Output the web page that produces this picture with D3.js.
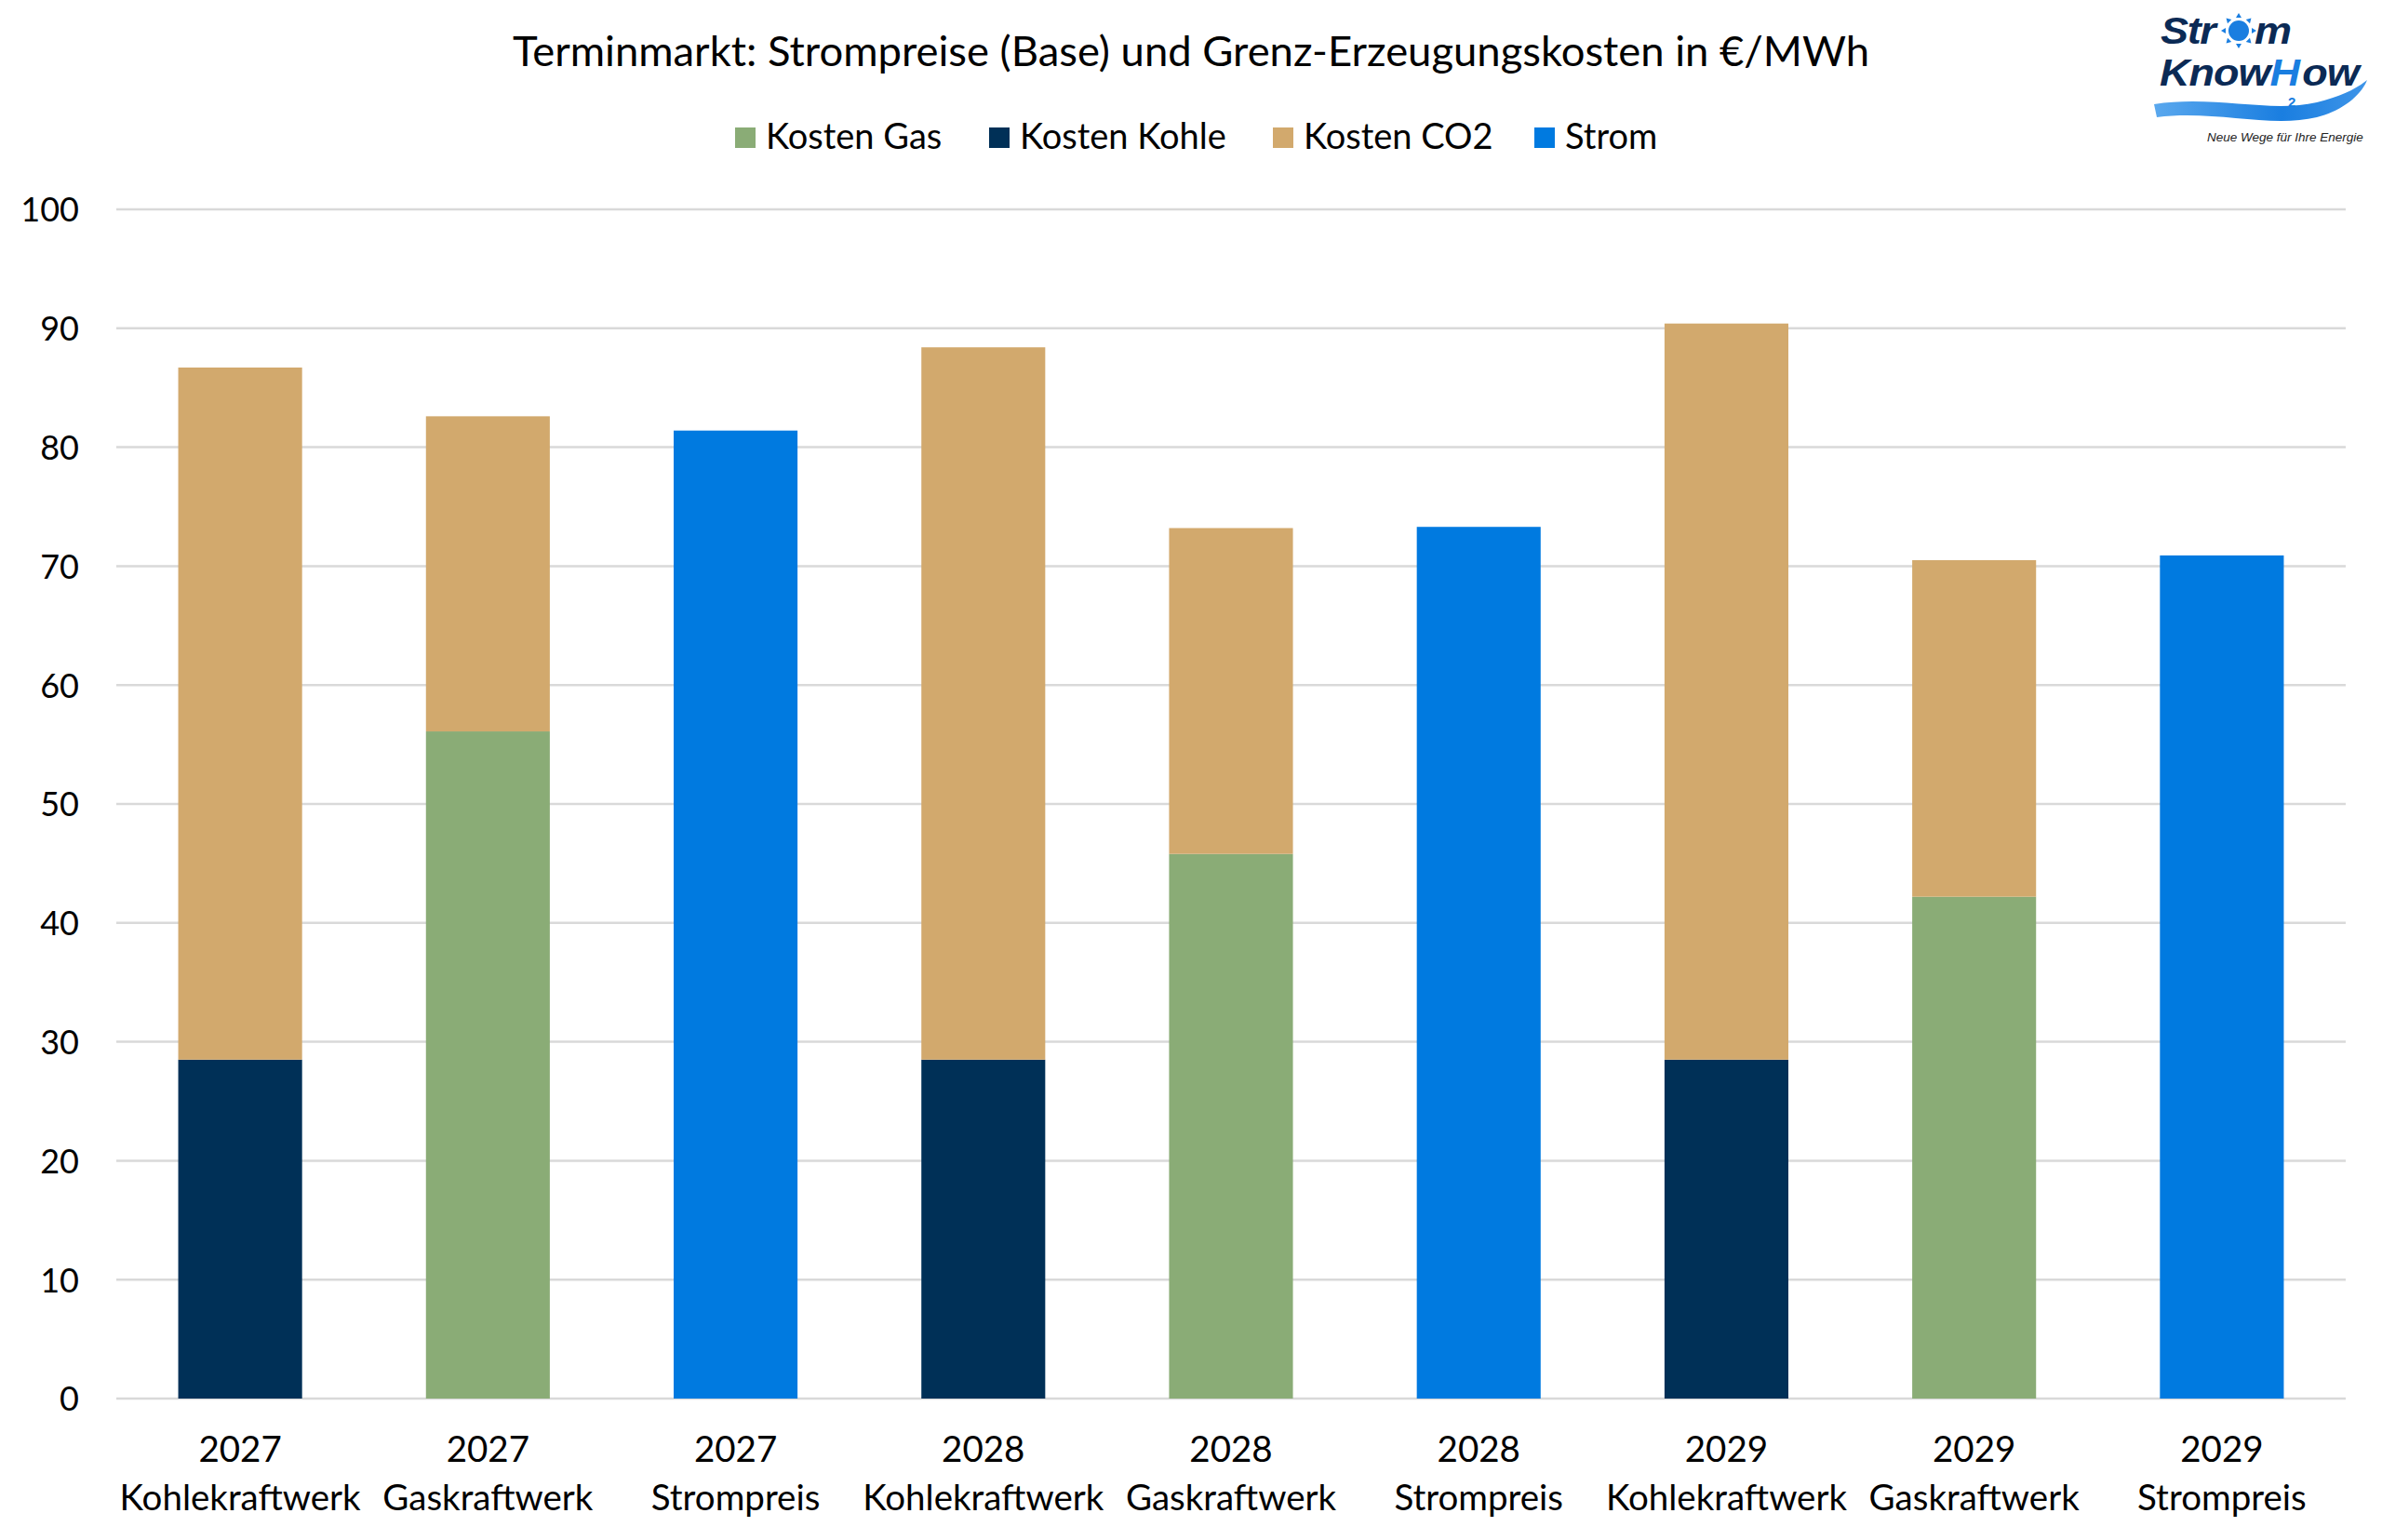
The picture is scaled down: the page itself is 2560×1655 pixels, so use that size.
<!DOCTYPE html>
<html>
<head>
<meta charset="utf-8">
<script src="https://cdn.jsdelivr.net/npm/d3@7"></script>
<style>
  html, body { margin: 0; padding: 0; background: #fff; }
  svg { display: block; }
</style>
</head>
<body>
<svg id="chart"></svg>
<script>
// values (€/MWh)
const years = ["2027", "2027", "2027", "2028", "2028", "2028", "2029", "2029", "2029"];
const plants = ["Kohlekraftwerk", "Gaskraftwerk", "Strompreis", "Kohlekraftwerk", "Gaskraftwerk", "Strompreis", "Kohlekraftwerk", "Gaskraftwerk", "Strompreis"];
const kostenGas = [0, 56.1, 0, 0, 45.8, 0, 0, 42.2, 0];
const kostenKohle = [28.5, 0, 0, 28.5, 0, 0, 28.5, 0, 0];
const kostenCO2 = [58.2, 26.5, 0, 59.9, 27.4, 0, 61.9, 28.3, 0];
const strom = [0, 0, 81.4, 0, 0, 73.3, 0, 0, 70.9];
const yTicks = [0, 10, 20, 30, 40, 50, 60, 70, 80, 90, 100];
const seriesNames = ["Kosten Gas", "Kosten Kohle", "Kosten CO2", "Strom"];
const seriesColors = ["#8AAC76", "#003057", "#D2A96D", "#007AE0"];

drawChart()

function drawChart() {
  const width = 2560;
  const height = 1655;
  const margin = { top: 225, right: 39, bottom: 152, left: 125 };
  const font = "Lato, 'Open Sans', sans-serif";

  const svg = d3.select('#chart')
    .attr('width', width)
    .attr('height', height)
    .attr('viewBox', [0, 0, width, height]);

  svg.append('rect')
    .attr('width', width)
    .attr('height', height)
    .attr('fill', '#fff');

  // build the table for d3.stack
  const table = years.map((y, i) => ({
    idx: i,
    "Kosten Gas": kostenGas[i],
    "Kosten Kohle": kostenKohle[i],
    "Kosten CO2": kostenCO2[i],
    "Strom": strom[i]
  }));

  const x = d3.scaleBand()
    .domain(table.map(d => d.idx))
    .range([margin.left, width - margin.right])
    .paddingInner(0.5)
    .paddingOuter(0.25);

  const y = d3.scaleLinear()
    .domain([0, 100])
    .range([height - margin.bottom, margin.top]);

  const color = d3.scaleOrdinal()
    .domain(seriesNames)
    .range(seriesColors);

  // gridlines
  svg.append('g')
    .selectAll('line')
    .data(yTicks)
    .enter()
    .append('line')
    .attr('x1', margin.left)
    .attr('x2', width - margin.right)
    .attr('y1', d => y(d))
    .attr('y2', d => y(d))
    .attr('stroke', '#d9d9d9')
    .attr('stroke-width', 2.5);

  // y axis labels
  const yAxis = svg.append('g')
    .attr('transform', `translate(${margin.left - 40},0)`)
    .call(d3.axisLeft(y).tickValues(yTicks).tickSize(0).tickPadding(0));
  yAxis.select('.domain').remove();
  yAxis.selectAll('text')
    .attr('font-family', font)
    .attr('font-size', '36px')
    .attr('fill', '#000')
    .attr('dy', '0.36em');

  // stacked bars
  const stacked = d3.stack().keys(seriesNames)(table);
  svg.append('g')
    .selectAll('g')
    .data(stacked)
    .enter()
    .append('g')
    .attr('fill', d => color(d.key))
    .selectAll('rect')
    .data(d => d.filter(s => s[1] - s[0] > 0))
    .enter()
    .append('rect')
    .attr('x', d => x(d.data.idx))
    .attr('width', x.bandwidth())
    .attr('y', d => y(d[1]))
    .attr('height', d => y(d[0]) - y(d[1]));

  // x axis labels (two lines)
  const xAxis = svg.append('g')
    .attr('transform', `translate(0,${height - margin.bottom})`)
    .call(d3.axisBottom(x).tickSize(0).tickFormat(''));
  xAxis.select('.domain').remove();
  xAxis.selectAll('.tick').append('text')
    .attr('font-family', font)
    .attr('font-size', '38.5px')
    .attr('fill', '#000')
    .attr('text-anchor', 'middle')
    .each(function (d) {
      const t = d3.select(this);
      t.append('tspan').attr('x', 0).attr('y', 68).text(years[d]);
      t.append('tspan').attr('x', 0).attr('y', 120).text(plants[d]);
    });

  // title
  svg.append('text')
    .attr('x', 1280)
    .attr('y', 71)
    .attr('text-anchor', 'middle')
    .attr('font-family', font)
    .attr('font-size', '45.4px')
    .attr('fill', '#000')
    .text('Terminmarkt: Strompreise (Base) und Grenz-Erzeugungskosten in €/MWh');

  // legend
  const legendX = [790, 1063, 1368, 1649];
  const legend = svg.append('g')
    .selectAll('g')
    .data(seriesNames)
    .enter()
    .append('g')
    .attr('transform', (d, i) => `translate(${legendX[i]},137)`);
  legend.append('rect')
    .attr('width', 22)
    .attr('height', 22)
    .attr('fill', d => color(d));
  legend.append('text')
    .attr('x', 33)
    .attr('y', 23)
    .attr('font-family', font)
    .attr('font-size', '38px')
    .attr('fill', '#000')
    .text(d => d);

  drawLogo(svg);
}

function drawLogo(svg) {
  const logo = svg.append('g');
  const navy = '#0b2a55';
  const blue = '#1a7ee0';
  const logoFont = "'Liberation Sans', Arial, sans-serif";

  // wave swoosh
  const grad = svg.append('defs').append('linearGradient')
    .attr('id', 'wave')
    .attr('x1', '0%').attr('x2', '100%');
  grad.append('stop').attr('offset', '0%').attr('stop-color', '#5aa8ee');
  grad.append('stop').attr('offset', '60%').attr('stop-color', blue);
  grad.append('stop').attr('offset', '100%').attr('stop-color', '#3f95e8');
  logo.append('path')
    .attr('d', 'M2315,112 C2380,102 2440,122 2490,110 C2515,104 2532,96 2544,86 C2537,104 2515,120 2490,126 C2440,138 2380,118 2318,126 Z')
    .attr('fill', 'url(#wave)');

  // sun in place of the o
  const sun = logo.append('g').attr('transform', 'translate(2406,33)');
  sun.append('circle').attr('r', 11).attr('fill', blue);
  sun.selectAll('path')
    .data(d3.range(8))
    .enter()
    .append('path')
    .attr('d', 'M-3,-14 L3,-14 L0,-19 Z')
    .attr('fill', blue)
    .attr('transform', d => `rotate(${d * 45})`);

  // wordmark, slightly widened so the two lines do not collide
  const wm = logo.append('g').attr('transform', 'translate(2321,0) scale(1.12,1)');
  const wordStyle = sel => sel
    .attr('font-family', logoFont)
    .attr('font-weight', 'bold')
    .attr('font-style', 'italic')
    .attr('font-size', '40.2px');

  wm.append('text').call(wordStyle)
    .attr('x', 1).attr('y', 47).attr('letter-spacing', '-1.3px')
    .attr('fill', navy).text('Str');
  wm.append('text').call(wordStyle)
    .attr('x', 91).attr('y', 47)
    .attr('fill', navy).text('m');

  const kh = wm.append('text').call(wordStyle)
    .attr('x', 0).attr('y', 92)
    .attr('letter-spacing', '-0.9px')
    .attr('fill', navy);
  kh.append('tspan').text('Know');
  kh.append('tspan').attr('fill', blue).text('H');
  kh.append('tspan').attr('dx', 3).text('ow');

  logo.append('text')
    .attr('x', 2459)
    .attr('y', 115)
    .attr('font-family', logoFont)
    .attr('font-weight', 'bold')
    .attr('font-size', '15px')
    .attr('fill', blue)
    .text('2');

  logo.append('text')
    .attr('x', 2372)
    .attr('y', 152)
    .attr('font-family', logoFont)
    .attr('font-style', 'italic')
    .attr('font-size', '13.5px')
    .attr('fill', '#222')
    .text('Neue Wege für Ihre Energie');
}
</script>
</body>
</html>
